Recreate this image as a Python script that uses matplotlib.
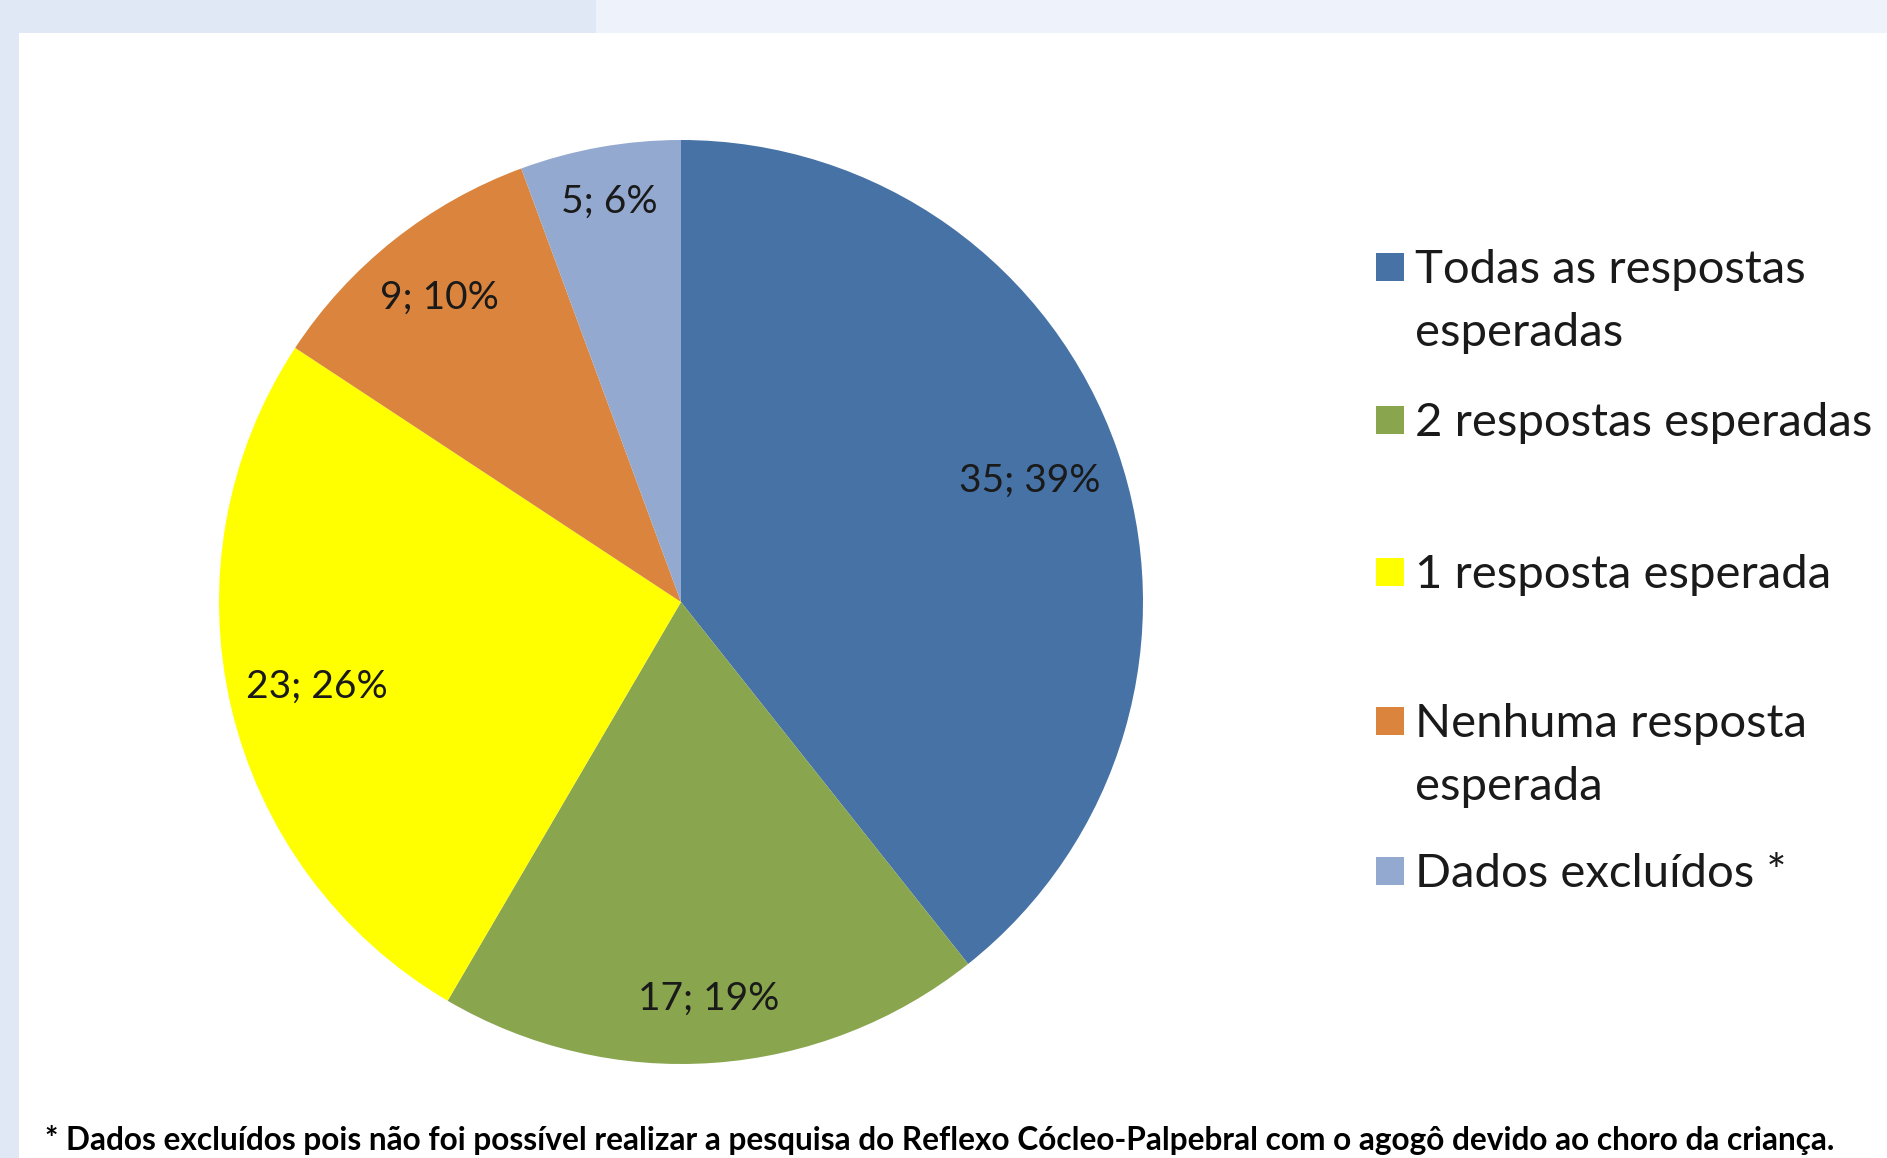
import numpy as np
import matplotlib.pyplot as plt
from matplotlib.patches import Rectangle

# Respostas ao Reflexo Cócleo-Palpebral
categorias = ["Todas as respostas\nesperadas", "2 respostas esperadas",
              "1 resposta esperada", "Nenhuma resposta\nesperada",
              "Dados excluídos *"]
valores = [35, 17, 23, 9, 5]
cores = ["#4672A6", "#89A54E", "#FFFF00", "#DB843D", "#93A9CF"]
nota = ("* Dados excluídos pois não foi possível realizar a pesquisa do "
        "Reflexo Cócleo-Palpebral com o agogô devido ao choro da criança.")

W, H = 1887, 1158
fig = plt.figure(figsize=(W / 100, H / 100), dpi=100)
fig.patch.set_facecolor("white")

# faixa superior e lateral do slide
fig.patches.append(Rectangle((0, 1 - 33 / H), 596 / W, 33 / H, transform=fig.transFigure,
                             facecolor="#E0E7F5", edgecolor="none"))
fig.patches.append(Rectangle((596 / W, 1 - 33 / H), 1 - 596 / W, 33 / H, transform=fig.transFigure,
                             facecolor="#EEF2FB", edgecolor="none"))
fig.patches.append(Rectangle((0, 0), 19 / W, 1, transform=fig.transFigure,
                             facecolor="#E0E7F5", edgecolor="none"))

cx, cy, r = 681, 602, 462
ax = fig.add_axes([(cx - r) / W, (H - cy - r) / H, 2 * r / W, 2 * r / H])
wedges, _ = ax.pie(valores, colors=cores, startangle=90, counterclock=False,
                   radius=1, wedgeprops=dict(linewidth=0))
ax.set_xlim(-1, 1)
ax.set_ylim(-1, 1)
ax.set_aspect("equal")
ax.axis("off")

# rótulos "valor; percentual"
total = sum(valores)
dist = [0.80, 0.86, 0.81, 0.84, 0.88]
for w, v, d in zip(wedges, valores, dist):
    ang = np.deg2rad((w.theta1 + w.theta2) / 2)
    ax.text(d * np.cos(ang), d * np.sin(ang), f"{v}; {round(100 * v / total)}%",
            ha="center", va="center", fontsize=28, family="Lato", color="#1a1a1a")

# legenda
y_lin = [267, 420, 572, 721, 871]
for cat, cor, y in zip(categorias, cores, y_lin):
    fig.patches.append(Rectangle((1376 / W, (H - y - 14) / H), 28 / W, 28 / H,
                                 transform=fig.transFigure, facecolor=cor, edgecolor="none"))
    fig.text(1415 / W, (H - y + 18) / H, cat, ha="left", va="top", fontsize=34,
             family="Lato", color="#1a1a1a", linespacing=1.62)

fig.text(45 / W, (H - 1140) / H, nota, ha="left", va="center", fontsize=22.8,
         family="Lato", weight="bold", color="black")

fig.savefig("out.png", dpi=100)
